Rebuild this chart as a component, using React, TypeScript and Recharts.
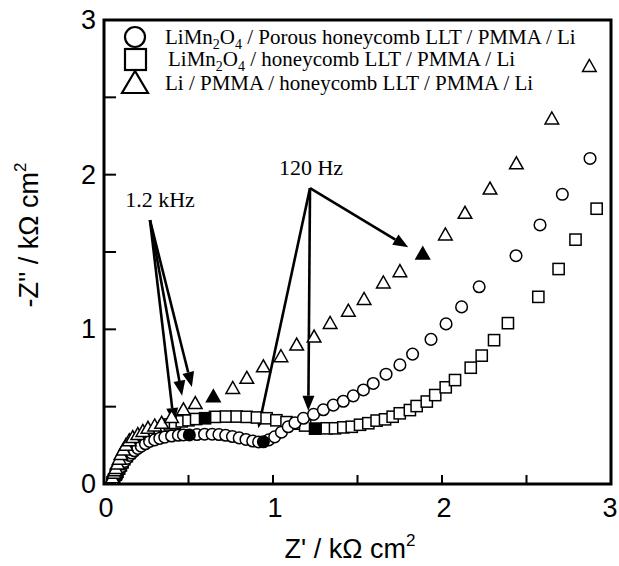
import React from 'react';
import { ReferenceArea, ReferenceLine, Scatter, ScatterChart, XAxis, YAxis } from 'recharts';

// Porous honeycomb LLT cell (circles)
const circleRe = [0.05, 0.055, 0.06, 0.07, 0.075, 0.08, 0.09, 0.1, 0.11, 0.12, 0.135, 0.15, 0.165, 0.18, 0.2, 0.22, 0.245, 0.27, 0.3, 0.33, 0.36, 0.4, 0.44, 0.47, 0.55, 0.595, 0.64, 0.68, 0.72, 0.76, 0.8, 0.84, 0.88, 0.915, 0.975, 1.01, 1.05, 1.09, 1.13, 1.18, 1.24, 1.298, 1.357, 1.416, 1.475, 1.535, 1.593, 1.669, 1.751, 1.826, 1.935, 2.024, 2.116, 2.22, 2.438, 2.58, 2.712, 2.876];
const circleIm = [0.01, 0.02, 0.03, 0.05, 0.06, 0.07, 0.09, 0.11, 0.13, 0.145, 0.165, 0.185, 0.2, 0.215, 0.23, 0.245, 0.26, 0.275, 0.285, 0.295, 0.303, 0.31, 0.315, 0.317, 0.32, 0.322, 0.322, 0.32, 0.315, 0.307, 0.298, 0.288, 0.278, 0.272, 0.285, 0.305, 0.335, 0.37, 0.395, 0.425, 0.45, 0.48, 0.51, 0.535, 0.57, 0.608, 0.65, 0.71, 0.77, 0.84, 0.935, 1.035, 1.145, 1.275, 1.476, 1.675, 1.873, 2.105];
const circleMarkRe = [0.505, 0.943];
const circleMarkIm = [0.317, 0.273];

// honeycomb LLT cell (squares)
const squareRe = [0.05, 0.055, 0.06, 0.07, 0.075, 0.08, 0.09, 0.1, 0.11, 0.12, 0.135, 0.15, 0.165, 0.18, 0.2, 0.22, 0.245, 0.27, 0.3, 0.33, 0.36, 0.39, 0.42, 0.46, 0.5, 0.545, 0.657, 0.722, 0.785, 0.844, 0.905, 0.962, 1.02, 1.08, 1.14, 1.19, 1.318, 1.367, 1.416, 1.466, 1.515, 1.564, 1.613, 1.663, 1.708, 1.75, 1.81, 1.85, 1.91, 1.96, 2.022, 2.077, 2.17, 2.235, 2.308, 2.39, 2.57, 2.69, 2.79, 2.915];
const squareIm = [0.01, 0.02, 0.03, 0.06, 0.07, 0.08, 0.1, 0.12, 0.14, 0.16, 0.18, 0.2, 0.22, 0.24, 0.26, 0.28, 0.3, 0.32, 0.34, 0.36, 0.375, 0.385, 0.395, 0.405, 0.412, 0.42, 0.434, 0.436, 0.436, 0.434, 0.43, 0.425, 0.412, 0.4, 0.39, 0.378, 0.36, 0.36, 0.366, 0.37, 0.383, 0.393, 0.41, 0.418, 0.435, 0.457, 0.478, 0.504, 0.533, 0.575, 0.625, 0.672, 0.752, 0.83, 0.93, 1.04, 1.21, 1.39, 1.58, 1.78];
const squareMarkRe = [0.598, 1.249];
const squareMarkIm = [0.425, 0.358];

// Li / PMMA / honeycomb LLT / PMMA / Li (triangles)
const triRe = [0.04, 0.045, 0.05, 0.06, 0.065, 0.07, 0.08, 0.09, 0.1, 0.115, 0.13, 0.15, 0.17, 0.2, 0.23, 0.26, 0.3, 0.341, 0.4, 0.47, 0.54, 0.762, 0.845, 0.943, 1.047, 1.14, 1.243, 1.338, 1.446, 1.539, 1.653, 1.751, 2.02, 2.136, 2.284, 2.44, 2.65, 2.872];
const triIm = [0.01, 0.025, 0.04, 0.07, 0.085, 0.1, 0.13, 0.16, 0.19, 0.22, 0.25, 0.28, 0.3, 0.32, 0.34, 0.36, 0.375, 0.392, 0.43, 0.48, 0.52, 0.618, 0.683, 0.758, 0.823, 0.898, 0.95, 1.038, 1.117, 1.193, 1.3, 1.373, 1.61, 1.75, 1.907, 2.07, 2.36, 2.7];
const triMarkRe = [0.647, 1.886];
const triMarkIm = [0.564, 1.487];

const ticks = [0, 0.5, 1, 1.5, 2, 2.5, 3];

// annotation arrows: [start x, start y, tip x, tip y]
const arrows = [
  [0.272, 1.706, 0.414, 0.394],
  [0.272, 1.706, 0.462, 0.571],
  [0.272, 1.706, 0.52, 0.627],
  [1.219, 1.913, 0.913, 0.36],
  [1.219, 1.913, 1.209, 0.474],
  [1.219, 1.913, 1.8, 1.53],
];

const toPoints = (xs: number[], ys: number[]) => xs.map((x, i) => ({ x, y: ys[i] }));

const W = 619;
const H = 566;
const sans = '"Liberation Sans", Arial, sans-serif';
const serif = '"Liberation Serif", "Times New Roman", serif';

const Circle = (fill: string) => (p: any) => (
  <circle cx={p.cx} cy={p.cy} r={5.8} fill={fill} stroke="#000" strokeWidth={1.5} />
);
const Square = (fill: string) => (p: any) => (
  <rect x={p.cx - 5.6} y={p.cy - 5.6} width={11.2} height={11.2} fill={fill} stroke="#000" strokeWidth={1.5} />
);
const Triangle = (fill: string) => (p: any) => (
  <polygon
    points={`${p.cx},${p.cy - 7} ${p.cx - 6.8},${p.cy + 5} ${p.cx + 6.8},${p.cy + 5}`}
    fill={fill}
    stroke="#000"
    strokeWidth={1.5}
  />
);

const Arrow = (p: any) => {
  const { x1, y1, x2, y2 } = p;
  const len = Math.hypot(x2 - x1, y2 - y1);
  const ux = (x2 - x1) / len;
  const uy = (y2 - y1) / len;
  const bx = x2 - ux * 15;
  const by = y2 - uy * 15;
  const px = -uy * 6;
  const py = ux * 6;
  return (
    <g>
      <line x1={x1} y1={y1} x2={bx} y2={by} stroke="#000" strokeWidth={2.6} />
      <polygon points={`${x2},${y2} ${bx + px},${by + py} ${bx - px},${by - py}`} fill="#000" />
    </g>
  );
};

const XTick = (p: any) => {
  const v = p.payload.value;
  return (
    <g>
      <line x1={p.x} x2={p.x} y1={p.y} y2={p.y - 9} stroke="#000" strokeWidth={2} />
      {Number.isInteger(v) && (
        <text x={v === 3 ? p.x - 1 : p.x + 2} y={p.y + 33} textAnchor="middle" fontSize={27} fontFamily={sans} fill="#000">
          {v}
        </text>
      )}
    </g>
  );
};

const YTick = (p: any) => {
  const v = p.payload.value;
  return (
    <g>
      <line x1={p.x} x2={p.x + 12} y1={p.y} y2={p.y} stroke="#000" strokeWidth={2} />
      {Number.isInteger(v) && (
        <text x={p.x - 8} y={p.y + 9} textAnchor="end" fontSize={27} fontFamily={sans} fill="#000">
          {v}
        </text>
      )}
    </g>
  );
};

export default function App() {
  return (
    <div style={{ position: 'relative', width: W, height: H, background: '#fff' }}>
      <style>{'body{margin:0}'}</style>
      <ScatterChart width={W} height={H} margin={{ top: 20, right: 8, left: 44, bottom: 42 }}>
        <XAxis
          type="number"
          dataKey="x"
          domain={[0, 3]}
          ticks={ticks}
          interval={0}
          tickSize={0}
          tickMargin={0}
          axisLine={false}
          tick={<XTick />}
          height={40}
          allowDataOverflow
        />
        <YAxis
          type="number"
          dataKey="y"
          domain={[0, 3]}
          ticks={ticks}
          interval={0}
          tickSize={0}
          tickMargin={0}
          axisLine={false}
          tick={<YTick />}
          width={60}
          allowDataOverflow
        />
        <ReferenceArea x1={0} x2={3} y1={0} y2={3} fill="none" fillOpacity={0} stroke="#000" strokeWidth={3} />
        <Scatter data={toPoints(squareRe, squareIm)} shape={Square('#fff')} isAnimationActive={false} />
        <Scatter data={toPoints(circleRe, circleIm)} shape={Circle('#fff')} isAnimationActive={false} />
        <Scatter data={toPoints(triRe, triIm)} shape={Triangle('#fff')} isAnimationActive={false} />
        <Scatter data={toPoints(circleMarkRe, circleMarkIm)} shape={Circle('#000')} isAnimationActive={false} />
        <Scatter data={toPoints(squareMarkRe, squareMarkIm)} shape={Square('#000')} isAnimationActive={false} />
        <Scatter data={toPoints(triMarkRe, triMarkIm)} shape={Triangle('#000')} isAnimationActive={false} />
        {arrows.map((a, i) => (
          <ReferenceLine
            key={i}
            segment={[
              { x: a[0], y: a[1] },
              { x: a[2], y: a[3] },
            ]}
            shape={Arrow}
            ifOverflow="visible"
          />
        ))}
      </ScatterChart>
      <svg width={W} height={H} style={{ position: 'absolute', left: 0, top: 0, pointerEvents: 'none' }}>
        <circle cx={135} cy={37} r={10} fill="none" stroke="#000" strokeWidth={2.2} />
        <rect x={125} y={49} width={21} height={21} fill="none" stroke="#000" strokeWidth={2.2} />
        <polygon points="135,71 122,93 148,93" fill="none" stroke="#000" strokeWidth={2.2} />
        <g fontFamily={serif} fontSize={21} fill="#000">
          <text x={165} y={44}>
            LiMn<tspan dy={5} fontSize={14}>2</tspan>
            <tspan dy={-5}>O</tspan>
            <tspan dy={5} fontSize={14}>4</tspan>
            <tspan dy={-5}> / Porous honeycomb LLT / PMMA / Li</tspan>
          </text>
          <text x={168} y={66}>
            LiMn<tspan dy={5} fontSize={14}>2</tspan>
            <tspan dy={-5}>O</tspan>
            <tspan dy={5} fontSize={14}>4</tspan>
            <tspan dy={-5}> / honeycomb LLT / PMMA / Li</tspan>
          </text>
          <text x={165} y={90}>Li / PMMA / honeycomb LLT / PMMA / Li</text>
        </g>
        <g fontFamily={serif} fontSize={22} fill="#000">
          <text x={160} y={207} textAnchor="middle">1.2 kHz</text>
          <text x={311} y={175} textAnchor="middle">120 Hz</text>
        </g>
        <text x={350} y={558} textAnchor="middle" fontFamily={sans} fontSize={27} fill="#000">
          Z' / kΩ cm<tspan dy={-12} fontSize={17}>2</tspan>
        </text>
        <text
          transform="translate(38,235) rotate(-90)"
          textAnchor="middle"
          fontFamily={sans}
          fontSize={27}
          fill="#000"
        >
          -Z'' / kΩ cm<tspan dy={-12} fontSize={17}>2</tspan>
        </text>
      </svg>
    </div>
  );
}
